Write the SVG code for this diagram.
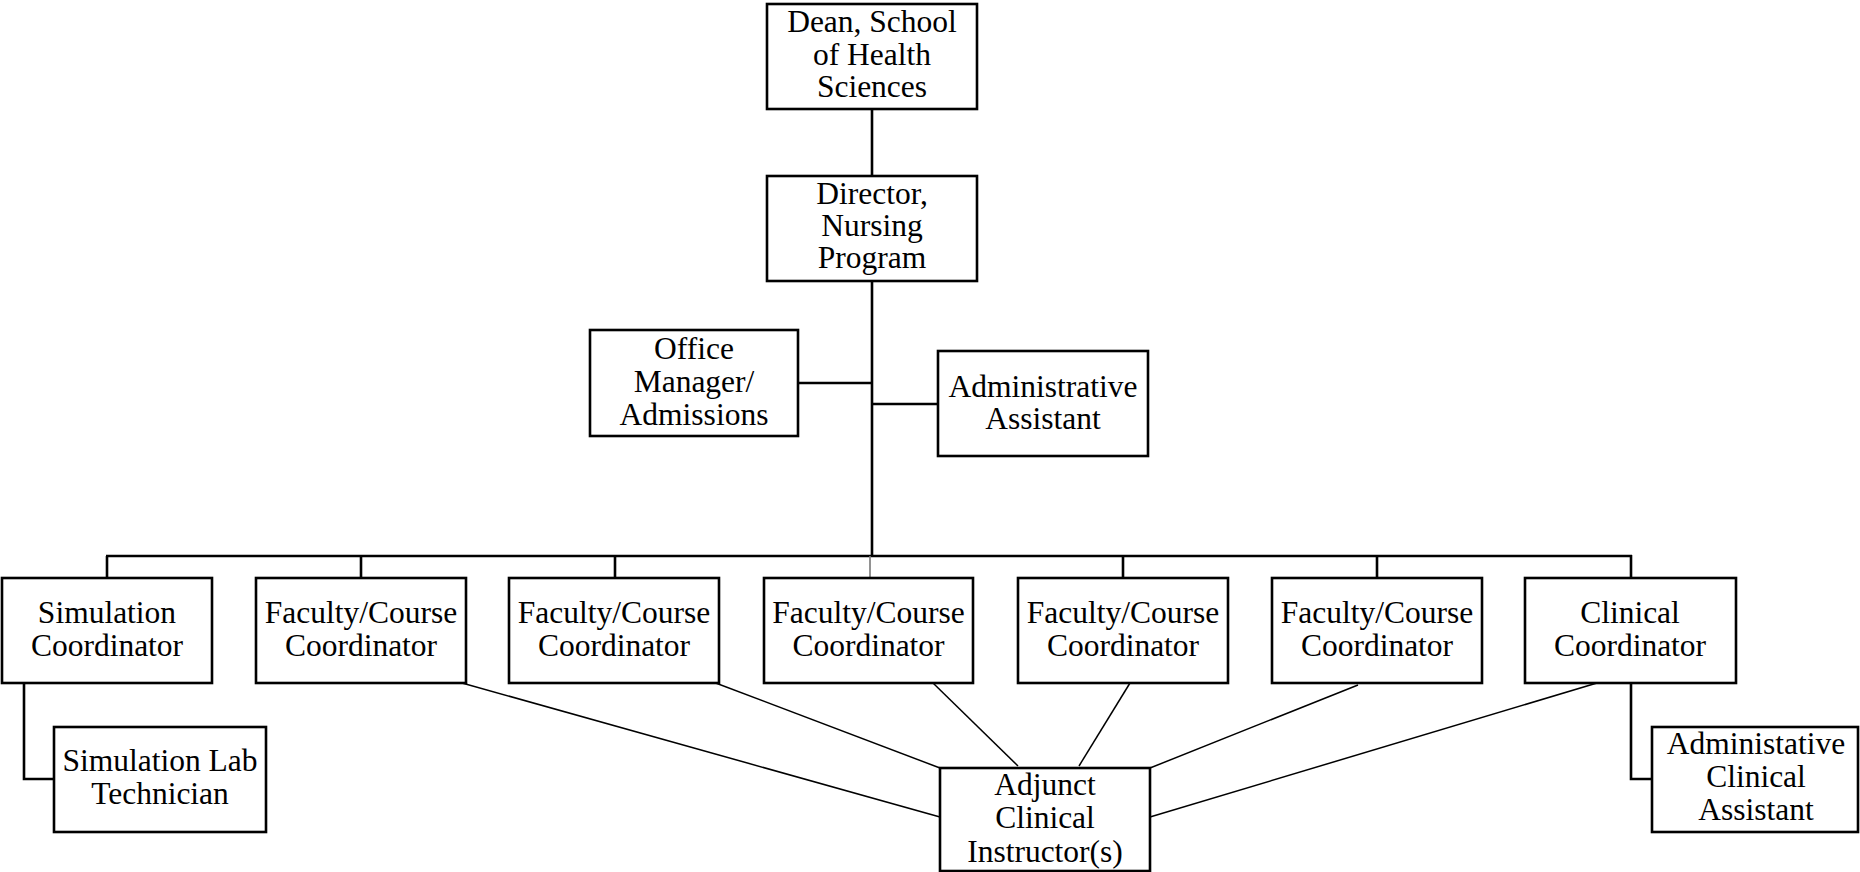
<svg xmlns="http://www.w3.org/2000/svg" width="1860" height="872" viewBox="0 0 1860 872">
<style>
.box{fill:#fff;stroke:#000;stroke-width:2.6}
.t{font-family:"Times New Roman","Liberation Serif",Tinos,"DejaVu Serif",serif;font-size:31.5px;fill:#000;text-anchor:middle}
.tree{stroke:#000;stroke-width:2.6;fill:none}
.diag{stroke:#000;stroke-width:1.5;fill:none}
</style>
<rect width="1860" height="872" fill="#fff"/>
<g id="connectors">
<line class="tree" x1="872" y1="109" x2="872" y2="176"/>
<line class="tree" x1="872" y1="281" x2="872" y2="557" stroke-width="3"/>
<line class="tree" x1="798" y1="383" x2="872" y2="383"/>
<line class="tree" x1="872" y1="404" x2="938" y2="404"/>
<line class="tree" x1="106" y1="556" x2="1632" y2="556"/>
<line class="tree" x1="107" y1="556" x2="107" y2="578"/>
<line class="tree" x1="361" y1="556" x2="361" y2="578"/>
<line class="tree" x1="615" y1="556" x2="615" y2="578"/>
<line x1="870" y1="556" x2="870" y2="578" stroke="#777" stroke-width="1.6"/>
<line class="tree" x1="1123" y1="556" x2="1123" y2="578"/>
<line class="tree" x1="1377" y1="556" x2="1377" y2="578"/>
<line class="tree" x1="1631" y1="555" x2="1631" y2="578"/>
<polyline class="tree" points="24,683 24,779 54,779"/>
<polyline class="tree" points="1631,683 1631,779 1652,779"/>
<line class="diag" x1="462" y1="683" x2="940" y2="817"/>
<line class="diag" x1="713" y1="682" x2="940" y2="768"/>
<line class="diag" x1="933" y1="683" x2="1018" y2="766"/>
<line class="diag" x1="1130" y1="683" x2="1079" y2="766"/>
<line class="diag" x1="1358" y1="685" x2="1150" y2="768"/>
<line class="diag" x1="1597" y1="683" x2="1150" y2="817"/>
</g>
<g id="dean">
<rect class="box" x="767" y="4" width="210" height="105"/>
<text class="t" x="872" y="32">Dean, School</text>
<text class="t" x="872" y="65">of Health</text>
<text class="t" x="872" y="97">Sciences</text>
</g>
<g id="director">
<rect class="box" x="767" y="176" width="210" height="105"/>
<text class="t" x="872" y="204">Director,</text>
<text class="t" x="872" y="236">Nursing</text>
<text class="t" x="872" y="268">Program</text>
</g>
<g id="office">
<rect class="box" x="590" y="330" width="208" height="106"/>
<text class="t" x="694" y="359">Office</text>
<text class="t" x="694" y="392">Manager/</text>
<text class="t" x="694" y="425">Admissions</text>
</g>
<g id="admin-assistant">
<rect class="box" x="938" y="351" width="210" height="105"/>
<text class="t" x="1043" y="397">Administrative</text>
<text class="t" x="1043" y="429">Assistant</text>
</g>
<g id="simulation-coordinator">
<rect class="box" x="2" y="578" width="210" height="105"/>
<text class="t" x="107" y="623">Simulation</text>
<text class="t" x="107" y="656">Coordinator</text>
</g>
<g id="faculty1">
<rect class="box" x="256" y="578" width="210" height="105"/>
<text class="t" x="361" y="623">Faculty/Course</text>
<text class="t" x="361" y="656">Coordinator</text>
</g>
<g id="faculty2">
<rect class="box" x="509" y="578" width="210" height="105"/>
<text class="t" x="614" y="623">Faculty/Course</text>
<text class="t" x="614" y="656">Coordinator</text>
</g>
<g id="faculty3">
<rect class="box" x="764" y="578" width="209" height="105"/>
<text class="t" x="868.500" y="623">Faculty/Course</text>
<text class="t" x="868.500" y="656">Coordinator</text>
</g>
<g id="faculty4">
<rect class="box" x="1018" y="578" width="210" height="105"/>
<text class="t" x="1123" y="623">Faculty/Course</text>
<text class="t" x="1123" y="656">Coordinator</text>
</g>
<g id="faculty5">
<rect class="box" x="1272" y="578" width="210" height="105"/>
<text class="t" x="1377" y="623">Faculty/Course</text>
<text class="t" x="1377" y="656">Coordinator</text>
</g>
<g id="clinical-coordinator">
<rect class="box" x="1525" y="578" width="211" height="105"/>
<text class="t" x="1630" y="623">Clinical</text>
<text class="t" x="1630" y="656">Coordinator</text>
</g>
<g id="sim-lab-technician">
<rect class="box" x="54" y="727" width="212" height="105"/>
<text class="t" x="160" y="771">Simulation Lab</text>
<text class="t" x="160" y="804">Technician</text>
</g>
<g id="adjunct">
<rect class="box" x="940" y="768" width="210" height="103"/>
<text class="t" x="1045" y="795">Adjunct</text>
<text class="t" x="1045" y="828">Clinical</text>
<text class="t" x="1045" y="862">Instructor(s)</text>
</g>
<g id="admin-clinical-assistant">
<rect class="box" x="1652" y="727" width="206" height="105"/>
<text class="t" x="1756" y="754">Administative</text>
<text class="t" x="1756" y="787">Clinical</text>
<text class="t" x="1756" y="820">Assistant</text>
</g>
</svg>
